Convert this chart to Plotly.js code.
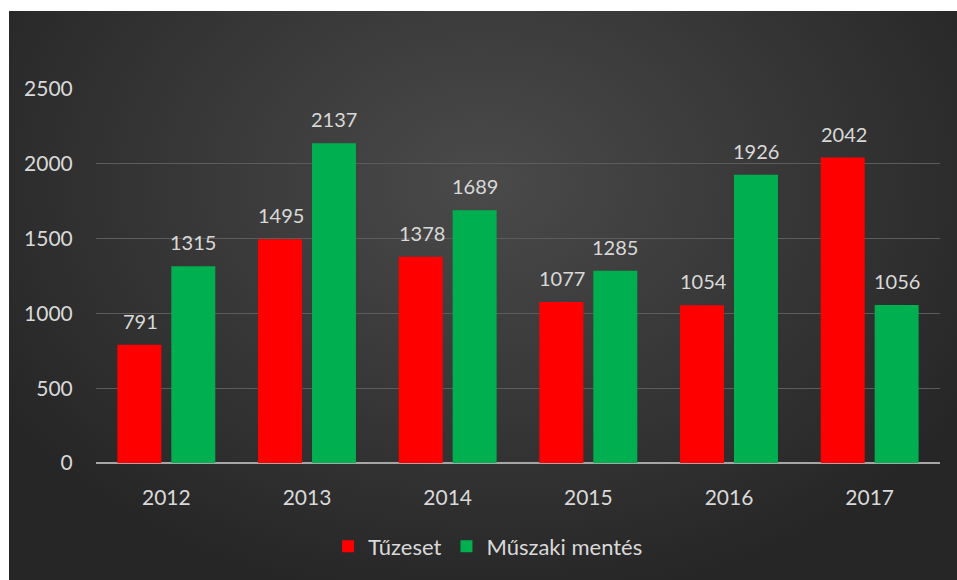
<!DOCTYPE html>
<html>
<head>
<meta charset="utf-8">
<script src="https://cdn.plot.ly/plotly-3.0.1.min.js"></script>
<style>
  html, body { margin: 0; padding: 0; background: #ffffff; }
  #wrap { position: relative; width: 957px; height: 580px; overflow: hidden; }
  #bg { position: absolute; left: 9px; top: 11px; width: 948px; height: 569px;
        background: radial-gradient(ellipse 60% 75% at 50% 30%, #4a4a4a 0%, #3a3a3a 45%, #262626 100%); }
  #plot { position: absolute; left: 0; top: 0; width: 957px; height: 580px; }
</style>
</head>
<body>
<div id="wrap">
  <div id="bg"></div>
  <div id="plot"></div>
</div>
<script>
const years = ['2012', '2013', '2014', '2015', '2016', '2017'];
const tuzeset = [791, 1495, 1378, 1077, 1054, 2042];
const muszaki = [1315, 2137, 1689, 1285, 1926, 1056];
const seriesNames = ['Tűzeset', 'Műszaki mentés'];
const yTicks = [0, 500, 1000, 1500, 2000, 2500];

const fontFam = 'Lato, "Open Sans", "Liberation Sans", sans-serif';
const txtColor = '#d9d9d9';

const traces = [
  { type: 'bar', name: seriesNames[0], x: years, y: tuzeset,
    marker: { color: '#ff0000' }, hoverinfo: 'none' },
  { type: 'bar', name: seriesNames[1], x: years, y: muszaki,
    marker: { color: '#00b050' }, hoverinfo: 'none' }
];

// data labels placed above each bar (x given as category index)
const annotations = [];
[tuzeset, muszaki].forEach((vals, si) => {
  vals.forEach((v, i) => {
    annotations.push({
      x: i, y: v, xref: 'x', yref: 'y',
      text: String(v), showarrow: false,
      xshift: si === 0 ? -26 : 27, yshift: 24, yanchor: 'middle',
      font: { family: fontFam, size: 20, color: txtColor }
    });
  });
});

const layout = {
  width: 957, height: 580,
  paper_bgcolor: 'rgba(0,0,0,0)', plot_bgcolor: 'rgba(0,0,0,0)',
  margin: { l: 96, r: 17, t: 89, b: 115 },
  barmode: 'group', bargap: 0.233, bargroupgap: 0.185,
  font: { family: fontFam, size: 20, color: txtColor },
  xaxis: { type: 'category', range: [-0.5, years.length - 0.5], autorange: false,
    showgrid: false, zeroline: false,
    showline: false, ticks: 'outside', ticklen: 16, tickcolor: 'rgba(0,0,0,0)',
    tickfont: { family: fontFam, size: 21, color: txtColor } },
  yaxis: { range: [0, 2500], autorange: false, tickvals: yTicks, ticktext: yTicks.map(String),
    showgrid: true, gridcolor: '#5c5c5c', gridwidth: 1,
    zeroline: true, zerolinecolor: '#a6a6a6', zerolinewidth: 2,
    ticks: 'outside', ticklen: 18, tickcolor: 'rgba(0,0,0,0)',
    tickfont: { family: fontFam, size: 21, color: txtColor } },
  annotations: annotations,
  showlegend: true,
  legend: { orientation: 'h', x: 0.275, xanchor: 'left', y: -0.223, yanchor: 'middle',
    font: { family: fontFam, size: 22, color: txtColor }, bgcolor: 'rgba(0,0,0,0)',
    itemwidth: 30 },
};

Plotly.newPlot('plot', traces, layout, { displayModeBar: false, staticPlot: true });
</script>
</body>
</html>
